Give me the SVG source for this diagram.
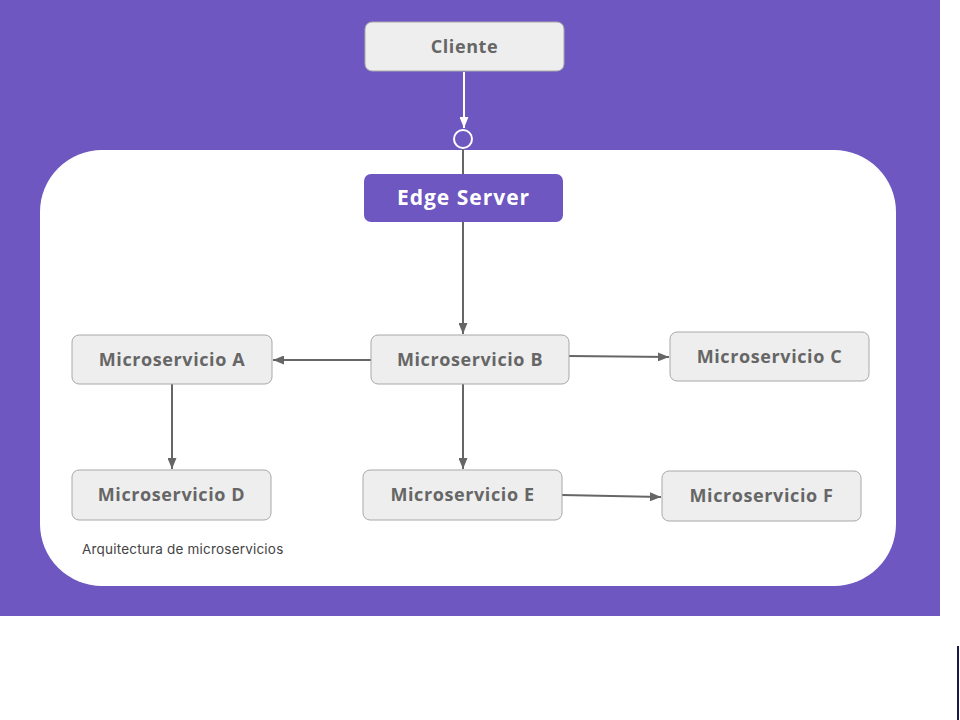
<svg xmlns="http://www.w3.org/2000/svg" width="960" height="720" viewBox="0 0 960 720">
<defs>
<style>
.box rect{fill:#eeeeee;stroke:#a8a8a8;stroke-width:1}
.box text{font-family:"Open Sans","DejaVu Sans",sans-serif;font-weight:700;font-size:18px;letter-spacing:0.6px;fill:#666666;text-anchor:middle}
.conn{stroke:#666666;stroke-width:2;fill:none}
</style>
<marker id="ah" viewBox="0 0 10 10" refX="10" refY="5" markerWidth="11" markerHeight="9" markerUnits="userSpaceOnUse" orient="auto" preserveAspectRatio="none"><path d="M0,0 L10,5 L0,10 z" fill="#666666"/></marker>
<marker id="ahw" viewBox="0 0 10 10" refX="10" refY="5" markerWidth="11" markerHeight="9" markerUnits="userSpaceOnUse" orient="auto" preserveAspectRatio="none"><path d="M0,0 L10,5 L0,10 z" fill="#ffffff"/></marker>
</defs>
<rect x="0" y="0" width="960" height="720" fill="#ffffff"/>
<rect x="0" y="0" width="940" height="616" fill="#6e57c1"/>
<rect id="container" x="40" y="150" width="856" height="436" rx="62" fill="#ffffff"/>
<line x1="958" y1="646" x2="958" y2="720" stroke="#1a1a4a" stroke-width="2"/>
<g id="connectors">
<line x1="464" y1="72" x2="464" y2="128" stroke="#ffffff" stroke-width="2" marker-end="url(#ahw)"/>
<circle cx="463" cy="139" r="9" fill="#6e57c1" stroke="#ffffff" stroke-width="2"/>
<line class="conn" x1="463" y1="149" x2="463" y2="174"/>
<line class="conn" x1="463" y1="222" x2="463" y2="334" marker-end="url(#ah)"/>
<line class="conn" x1="371" y1="360" x2="273" y2="360" marker-end="url(#ah)"/>
<line class="conn" x1="569" y1="356" x2="669" y2="357" marker-end="url(#ah)"/>
<line class="conn" x1="172" y1="384" x2="172" y2="469" marker-end="url(#ah)"/>
<line class="conn" x1="463" y1="384" x2="463" y2="469" marker-end="url(#ah)"/>
<line class="conn" x1="562" y1="495" x2="661" y2="497" marker-end="url(#ah)"/>
</g>
<g id="cliente" class="box"><rect x="365" y="22" width="199" height="49" rx="7"/><text x="464.5" y="53">Cliente</text></g>
<g id="edge"><rect x="364" y="174" width="199" height="48" rx="7" fill="#6e57c1"/><text x="463.5" y="205" font-family="Open Sans, DejaVu Sans, sans-serif" font-weight="700" font-size="21" letter-spacing="1" fill="#ffffff" text-anchor="middle">Edge Server</text></g>
<g id="msA" class="box"><rect x="72" y="335" width="200" height="49" rx="7"/><text x="172" y="366">Microservicio A</text></g>
<g id="msB" class="box"><rect x="371" y="335" width="198" height="49" rx="7"/><text x="470" y="366">Microservicio B</text></g>
<g id="msC" class="box"><rect x="670" y="332" width="199" height="49" rx="7"/><text x="769.5" y="363">Microservicio C</text></g>
<g id="msD" class="box"><rect x="72" y="470" width="199" height="50" rx="7"/><text x="171.5" y="501">Microservicio D</text></g>
<g id="msE" class="box"><rect x="363" y="470" width="199" height="50" rx="7"/><text x="462.5" y="501">Microservicio E</text></g>
<g id="msF" class="box"><rect x="662" y="471" width="199" height="50" rx="7"/><text x="761.5" y="502">Microservicio F</text></g>
<text x="82" y="554" font-family="Inter, Roboto, sans-serif" font-size="13.5" letter-spacing="0.2" fill="#444444">Arquitectura de microservicios</text>
</svg>
